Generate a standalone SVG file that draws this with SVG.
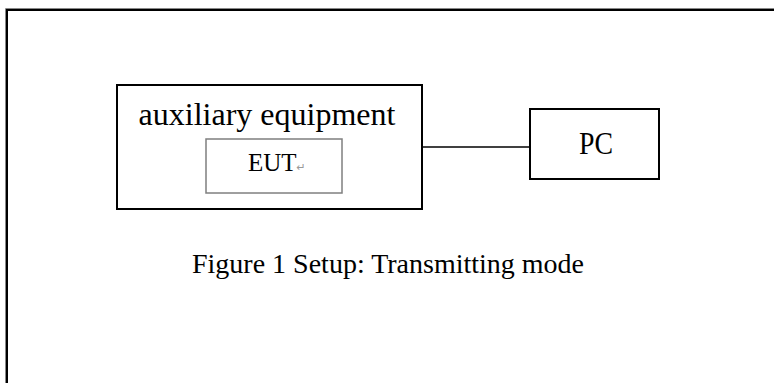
<svg xmlns="http://www.w3.org/2000/svg" width="774" height="383" viewBox="0 0 774 383">
<style>
  .box { fill: #ffffff; stroke: #000000; stroke-width: 2; }
  .inner { fill: #ffffff; stroke: #7f7f7f; stroke-width: 1.5; }
  .txt { font-family: "Liberation Serif", "Times New Roman", serif; fill: #000000; }
  .conn { stroke: #000000; stroke-width: 1.5; fill: none; }
</style>
<rect x="0" y="0" width="774" height="383" fill="#ffffff"/>
<g id="frame">
  <path d="M7 383 V10 H774" fill="none" stroke="#000000" stroke-width="2"/>
  <path d="M5.5 383 V8.5 H774" fill="none" stroke="#888888" stroke-width="1"/>
</g>
<g id="connectors">
  <line class="conn" x1="422" y1="147" x2="530" y2="147"/>
</g>
<g id="aux">
  <rect class="box" x="117" y="85" width="305" height="124"/>
  <text class="txt" x="267" y="125" font-size="32" text-anchor="middle">auxiliary equipment</text>
</g>
<g id="eut">
  <rect class="inner" x="206" y="139" width="136" height="54"/>
  <text class="txt" x="248" y="171" font-size="25">EUT<tspan font-size="11" fill="#999999" font-family="DejaVu Sans, sans-serif">↵</tspan></text>
</g>
<g id="pc">
  <rect class="box" x="530" y="109" width="129" height="70"/>
  <text class="txt" x="579" y="154" font-size="31" textLength="34" lengthAdjust="spacingAndGlyphs">PC</text>
</g>
<g id="caption">
  <text class="txt" x="192" y="273" font-size="28">Figure 1 Setup: Transmitting mode</text>
</g>
</svg>
